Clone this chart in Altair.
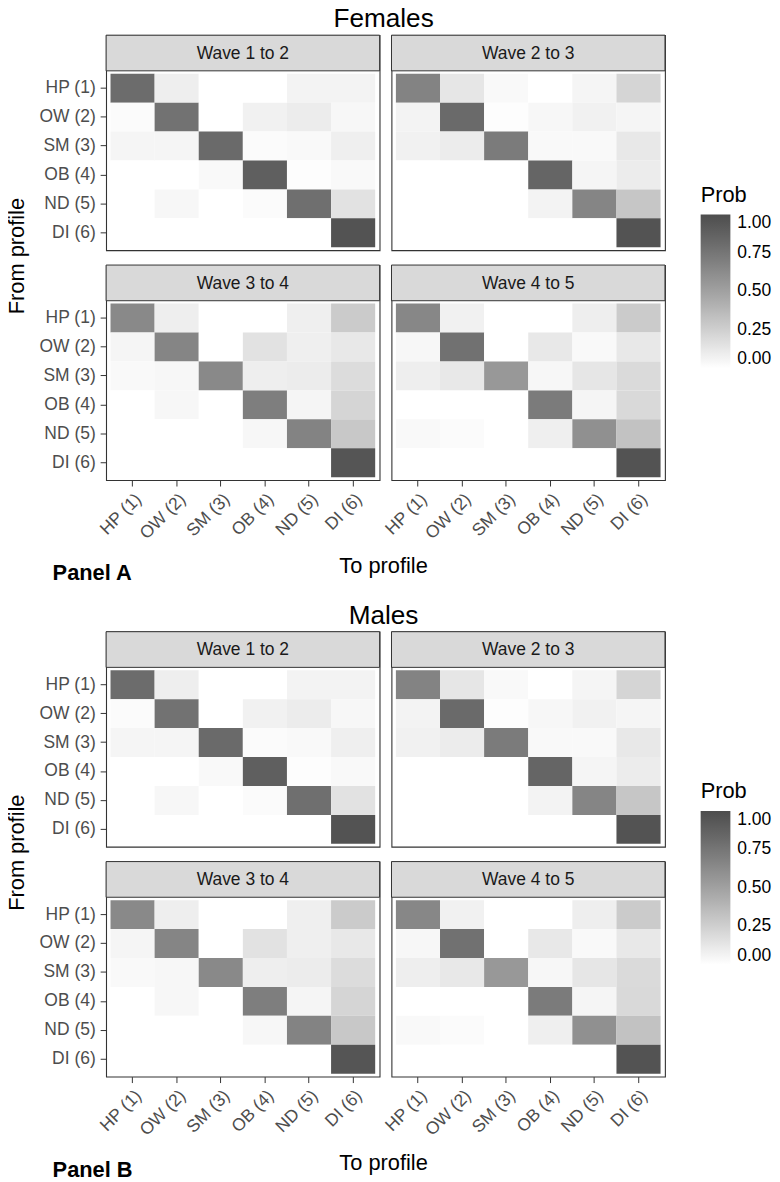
import altair as alt
import pandas as pd

FONT = "Liberation Sans"

profiles = ["HP (1)", "OW (2)", "SM (3)", "OB (4)", "ND (5)", "DI (6)"]
waves = ["Wave 1 to 2", "Wave 2 to 3", "Wave 3 to 4", "Wave 4 to 5"]
legend_values = [0.0, 0.25, 0.5, 0.75, 1.0]

# rows = from profile, columns = to profile
fem_w12 = [
    [0.81, 0.09, 0.00, 0.00, 0.06, 0.06],
    [0.02, 0.77, 0.00, 0.07, 0.10, 0.04],
    [0.05, 0.05, 0.82, 0.02, 0.03, 0.08],
    [0.00, 0.00, 0.03, 0.89, 0.01, 0.03],
    [0.00, 0.04, 0.00, 0.02, 0.79, 0.15],
    [0.00, 0.00, 0.00, 0.00, 0.00, 0.96],
]
fem_w23 = [
    [0.67, 0.13, 0.03, 0.00, 0.05, 0.22],
    [0.06, 0.82, 0.01, 0.04, 0.07, 0.05],
    [0.07, 0.10, 0.72, 0.03, 0.03, 0.12],
    [0.00, 0.00, 0.00, 0.85, 0.05, 0.10],
    [0.00, 0.00, 0.00, 0.06, 0.66, 0.30],
    [0.00, 0.00, 0.00, 0.00, 0.00, 0.96],
]
fem_w34 = [
    [0.64, 0.09, 0.00, 0.00, 0.08, 0.27],
    [0.05, 0.66, 0.00, 0.15, 0.08, 0.12],
    [0.03, 0.04, 0.64, 0.09, 0.10, 0.18],
    [0.00, 0.04, 0.00, 0.70, 0.05, 0.22],
    [0.00, 0.00, 0.00, 0.04, 0.67, 0.29],
    [0.00, 0.00, 0.00, 0.00, 0.00, 0.95],
]
fem_w45 = [
    [0.65, 0.07, 0.00, 0.00, 0.09, 0.27],
    [0.04, 0.78, 0.00, 0.12, 0.03, 0.12],
    [0.09, 0.12, 0.55, 0.04, 0.13, 0.19],
    [0.00, 0.00, 0.00, 0.72, 0.05, 0.20],
    [0.03, 0.02, 0.00, 0.08, 0.60, 0.32],
    [0.00, 0.00, 0.00, 0.00, 0.00, 0.96],
]

mal_w12 = [
    [0.81, 0.09, 0.00, 0.00, 0.06, 0.06],
    [0.02, 0.77, 0.00, 0.07, 0.10, 0.04],
    [0.05, 0.05, 0.82, 0.02, 0.03, 0.08],
    [0.00, 0.00, 0.03, 0.89, 0.01, 0.03],
    [0.00, 0.04, 0.00, 0.02, 0.79, 0.15],
    [0.00, 0.00, 0.00, 0.00, 0.00, 0.96],
]
mal_w23 = [
    [0.67, 0.13, 0.03, 0.00, 0.05, 0.22],
    [0.06, 0.82, 0.01, 0.04, 0.07, 0.05],
    [0.07, 0.10, 0.72, 0.03, 0.03, 0.12],
    [0.00, 0.00, 0.00, 0.85, 0.05, 0.10],
    [0.00, 0.00, 0.00, 0.06, 0.66, 0.30],
    [0.00, 0.00, 0.00, 0.00, 0.00, 0.96],
]
mal_w34 = [
    [0.64, 0.09, 0.00, 0.00, 0.08, 0.27],
    [0.05, 0.66, 0.00, 0.15, 0.08, 0.12],
    [0.03, 0.04, 0.64, 0.09, 0.10, 0.18],
    [0.00, 0.04, 0.00, 0.70, 0.05, 0.22],
    [0.00, 0.00, 0.00, 0.04, 0.67, 0.29],
    [0.00, 0.00, 0.00, 0.00, 0.00, 0.95],
]
mal_w45 = [
    [0.65, 0.07, 0.00, 0.00, 0.09, 0.27],
    [0.04, 0.78, 0.00, 0.12, 0.03, 0.12],
    [0.09, 0.12, 0.55, 0.04, 0.13, 0.19],
    [0.00, 0.00, 0.00, 0.72, 0.05, 0.20],
    [0.03, 0.02, 0.00, 0.08, 0.60, 0.32],
    [0.00, 0.00, 0.00, 0.00, 0.00, 0.96],
]


def to_df(mats):
    recs = []
    for wave, mat in zip(waves, mats):
        for i, row in enumerate(mat):
            for j, v in enumerate(row):
                recs.append({"wave": wave, "from": profiles[i], "to": profiles[j], "prob": v})
    return pd.DataFrame(recs)


W, H = 276, 181
STRIP = 36
PH = STRIP + H
AX_TXT = 17.6
TXT_GREY = "#4d4d4d"
DARK = "#333333"
NOSTROKE = alt.ViewBackground(stroke="transparent")

color_scale = alt.Scale(domain=[0, 1], range=["#ffffff", "#4d4d4d"], interpolate="lab")


def make_legend():
    return alt.Legend(
        title="Prob", orient="none", legendX=700, legendY=180,
        values=legend_values, format=".2f",
        gradientLength=155, gradientThickness=30, gradientStrokeWidth=0,
        titleFontSize=22, titleFontWeight="normal", titleColor="#000000",
        titlePadding=8, labelFontSize=AX_TXT, labelColor="#000000",
        labelOffset=7,
    )


def text_chart(items, width, height):
    layers = []
    for label, x, y, size, kw in items:
        d = pd.DataFrame({"label": [label]})
        layers.append(
            alt.Chart(d).mark_text(fontSize=size, font=FONT, color="#000000", **kw).encode(
                text="label:N", x=alt.value(x), y=alt.value(y)
            )
        )
    return alt.layer(*layers).properties(width=width, height=height, view=NOSTROKE)


def panel(df, wave, col, row):
    d = df[df["wave"] == wave]
    if row == 1:
        x_axis = alt.Axis(
            title=None, labelAngle=315, labelAlign="right", labelBaseline="top",
            labelFontSize=AX_TXT, labelColor=TXT_GREY, labelFont=FONT,
            tickColor=DARK, tickSize=6, tickWidth=1, domain=False,
            grid=False, bandPosition=0.5, labelPadding=4,
        )
    else:
        x_axis = None
    if col == 0:
        y_axis = alt.Axis(
            title=None, labelFontSize=AX_TXT, labelColor=TXT_GREY, labelFont=FONT,
            tickColor=DARK, tickSize=6, tickWidth=1, domain=False,
            grid=False, bandPosition=0.5, labelPadding=5,
        )
    else:
        y_axis = None

    heat = alt.Chart(d).mark_rect().encode(
        x=alt.X("to:N", sort=profiles, axis=x_axis,
                scale=alt.Scale(paddingInner=0, paddingOuter=0.1)),
        y=alt.Y("from:N", sort=profiles, axis=y_axis,
                scale=alt.Scale(range=[STRIP, PH], paddingInner=0, paddingOuter=0.1)),
        color=alt.Color("prob:Q", scale=color_scale, legend=make_legend()),
    )
    sd = pd.DataFrame({"label": [wave]})
    strip_rect = alt.Chart(sd).mark_rect(fill="#d9d9d9", stroke=DARK, strokeWidth=1).encode(
        x=alt.value(0), x2=alt.value(W), y=alt.value(0), y2=alt.value(STRIP)
    )
    strip_text = alt.Chart(sd).mark_text(fontSize=AX_TXT, font=FONT, color="#1a1a1a",
                                         baseline="middle").encode(
        text="label:N", x=alt.value(W / 2), y=alt.value(STRIP / 2 + 1)
    )
    return alt.layer(heat, strip_rect, strip_text).properties(width=W, height=PH)


def half(mats, title, panel_label):
    df = to_df(mats)
    title_c = text_chart([(title, 380, 0, 26.4, {"baseline": "top"})], 760, 25)
    ytitle_c = text_chart([("From profile", 10, 223, 22, {"angle": 270, "baseline": "middle"})],
                          20, 2 * PH + 12)
    xtitle_c = text_chart([
        ("To profile", 380, 22, 22, {"baseline": "middle"}),
        (panel_label, 46, 29, 22, {"baseline": "middle", "align": "left", "fontWeight": "bold"}),
    ], 760, 41)
    p1 = panel(df, waves[0], 0, 0)
    p2 = panel(df, waves[1], 1, 0)
    p3 = panel(df, waves[2], 0, 1)
    p4 = panel(df, waves[3], 1, 1)
    r1 = alt.hconcat(p1, p2, spacing=12, bounds="flush")
    r2 = alt.hconcat(p3, p4, spacing=12, bounds="flush")
    grid = alt.vconcat(r1, r2, spacing=12)
    mid = alt.hconcat(ytitle_c, grid, spacing=9)
    return alt.vconcat(title_c, mid, xtitle_c, spacing=0)


top = half([fem_w12, fem_w23, fem_w34, fem_w45], "Females", "Panel A")
bottom = half([mal_w12, mal_w23, mal_w34, mal_w45], "Males", "Panel B")

chart = (
    alt.vconcat(top, bottom, spacing=16)
    .resolve_scale(color="independent")
    .properties(padding={"left": -3, "top": -8, "right": 0, "bottom": 0})
    .configure(font=FONT)
    .configure_view(stroke=DARK, strokeWidth=1.1)
)

chart.save("out.html", embed_options={"renderer": "svg", "actions": False})
